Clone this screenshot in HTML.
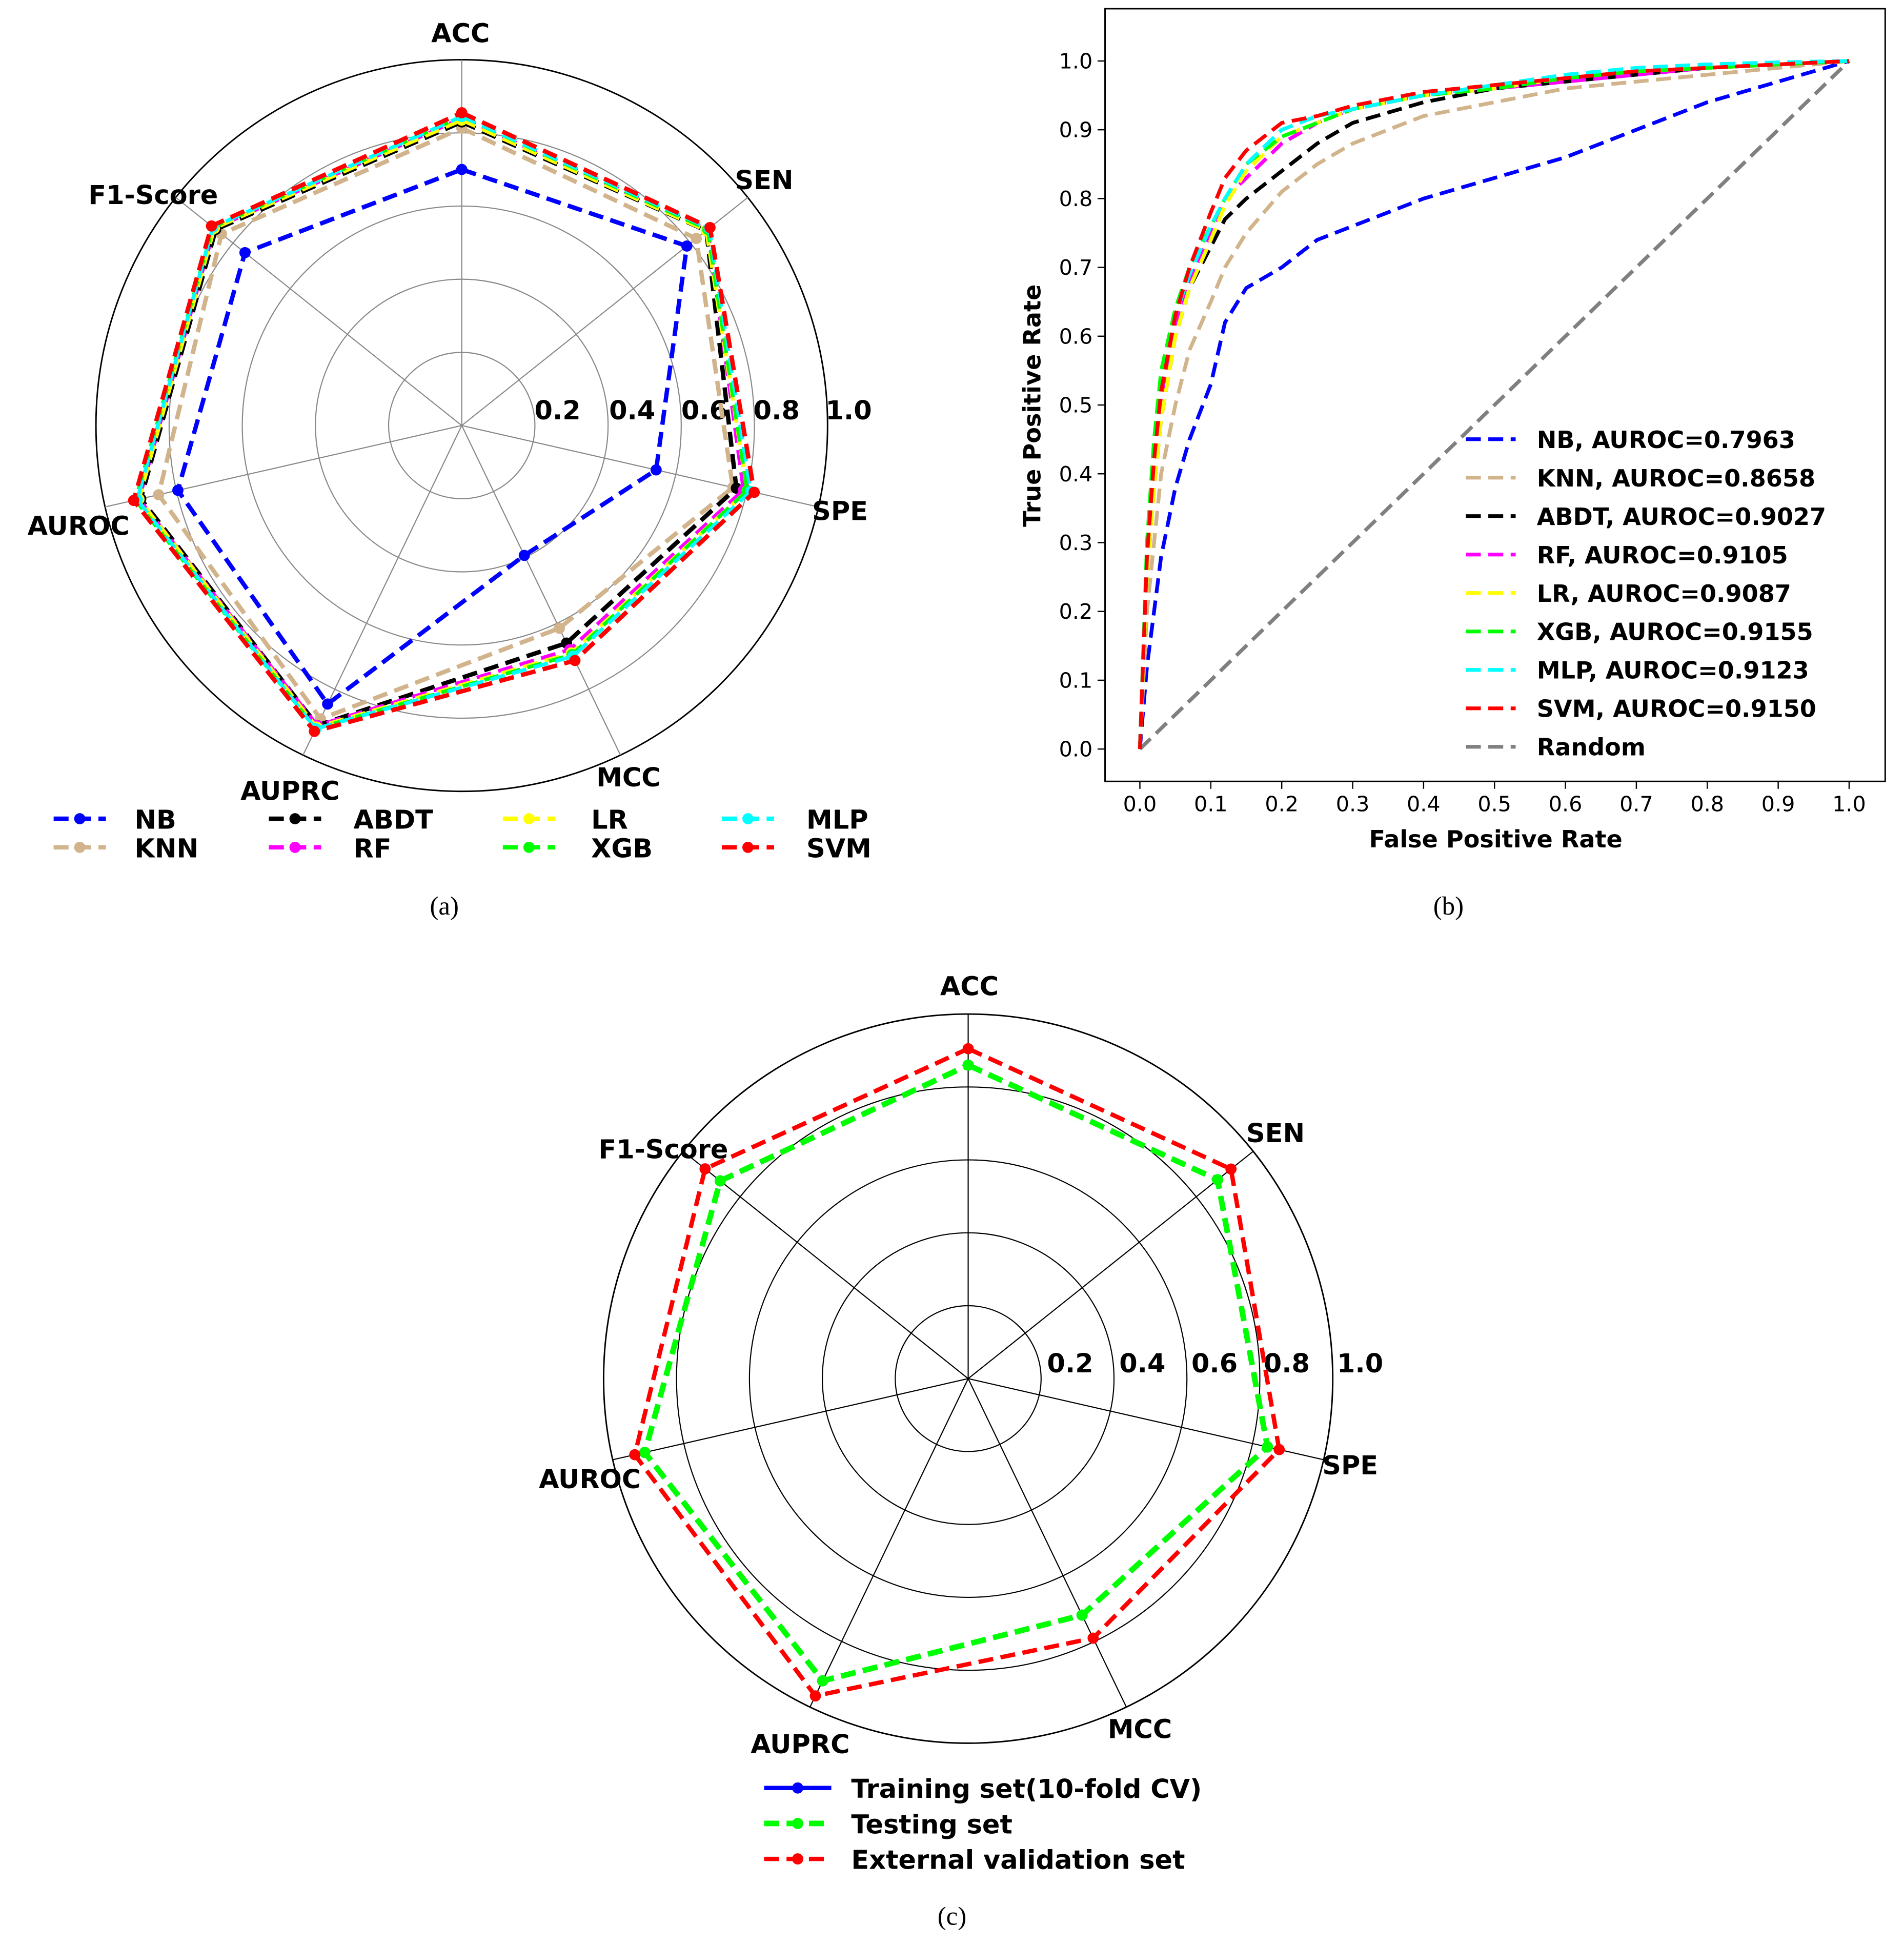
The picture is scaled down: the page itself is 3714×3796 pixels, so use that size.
<!DOCTYPE html>
<html><head><meta charset="utf-8"><style>
html,body{margin:0;padding:0;background:#fff}
svg{display:block}
text{font-family:"DejaVu Sans","Liberation Sans",sans-serif}
.b{font-weight:bold}
.cap{font-family:"Liberation Serif",serif;font-size:21px}
</style></head><body>
<svg id="fig" width="3714" height="3796" viewBox="0 0 1530 1564" xmlns="http://www.w3.org/2000/svg"></svg>
<script>
const metrics=["ACC","SEN","SPE","MCC","AUPRC","AUROC","F1-Score"];
const models=["NB","KNN","ABDT","RF","LR","XGB","MLP","SVM"];
const modelColors=["#0000ff","#d2b48c","#000000","#ff00ff","#ffff00","#00ff00","#00ffff","#ff0000"];
const NB=[0.70,0.787,0.545,0.394,0.845,0.796,0.758];
const KNN=[0.813,0.82,0.76,0.615,0.89,0.85,0.84];
const ABDT=[0.83,0.855,0.77,0.66,0.91,0.90,0.86];
const RF=[0.84,0.86,0.79,0.68,0.91,0.905,0.865];
const LR=[0.835,0.855,0.80,0.69,0.915,0.905,0.865];
const XGB=[0.845,0.86,0.80,0.695,0.92,0.915,0.87];
const MLP=[0.845,0.865,0.81,0.70,0.92,0.91,0.87];
const SVM=[0.855,0.868,0.82,0.713,0.928,0.92,0.875];
const setNames=["Training set(10-fold CV)","Testing set","External validation set"];
const TRAIN=[0.86,0.875,0.842,0.72,0.92,0.91,0.87];
const TEST=[0.86,0.875,0.842,0.72,0.92,0.91,0.87];
const EXT=[0.905,0.922,0.875,0.79,0.966,0.938,0.923];
const rTicks=[0.2,0.4,0.6,0.8,1.0];
const fprs=[0,0.01,0.02,0.03,0.05,0.07,0.1,0.12,0.15,0.2,0.25,0.3,0.4,0.5,0.6,0.7,0.8,0.9,1.0];
const rocNB=[0,0.12,0.2,0.28,0.38,0.45,0.53,0.62,0.67,0.7,0.74,0.76,0.8,0.83,0.86,0.9,0.94,0.97,1.0];
const rocKNN=[0,0.2,0.3,0.4,0.5,0.58,0.65,0.7,0.75,0.81,0.85,0.88,0.92,0.94,0.96,0.97,0.98,0.99,1];
const rocABDT=[0,0.25,0.38,0.48,0.6,0.67,0.73,0.77,0.8,0.84,0.88,0.91,0.94,0.96,0.97,0.98,0.99,0.995,1];
const rocRF=[0,0.27,0.4,0.5,0.62,0.68,0.75,0.8,0.83,0.88,0.91,0.93,0.95,0.96,0.97,0.98,0.99,0.995,1];
const rocLR=[0,0.25,0.38,0.48,0.6,0.67,0.74,0.79,0.84,0.89,0.91,0.93,0.95,0.96,0.975,0.985,0.99,0.995,1];
const rocXGB=[0,0.3,0.45,0.55,0.64,0.7,0.76,0.8,0.85,0.89,0.91,0.93,0.95,0.96,0.975,0.985,0.99,0.995,1];
const rocMLP=[0,0.28,0.42,0.52,0.63,0.69,0.76,0.8,0.85,0.9,0.92,0.93,0.95,0.965,0.98,0.99,0.995,0.998,1];
const rocSVM=[0,0.28,0.42,0.52,0.63,0.7,0.78,0.83,0.87,0.91,0.92,0.935,0.955,0.965,0.975,0.985,0.99,0.995,1];
const aurocs=["0.7963","0.8658","0.9027","0.9105","0.9087","0.9155","0.9123","0.9150"];
const axTicks=[0,0.1,0.2,0.3,0.4,0.5,0.6,0.7,0.8,0.9,1.0];

const NS="http://www.w3.org/2000/svg";
const svg=document.getElementById('fig');
function mk(tag,attrs,parent){const e=document.createElementNS(NS,tag);for(const k in attrs)e.setAttribute(k,attrs[k]);(parent||svg).appendChild(e);return e;}
function txt(s,x,y,size,cls,anchor,parent){const t=mk('text',{x:x,y:y,'font-size':size,'text-anchor':anchor||'middle','class':cls||''},parent);t.textContent=s;return t;}

function radar(cx,cy,R,gridCol,labelPos,tickPos,series,colors,widths,name){
  const g=mk('g',{});
  
  
  const ang=i=>Math.PI/2-i*2*Math.PI/7;
  const pt=(i,v)=>[cx+R*v*Math.cos(ang(i)),cy-R*v*Math.sin(ang(i))];
  rTicks.forEach((t,k)=>{
    const c=mk('circle',{cx:cx,cy:cy,r:R*t,fill:'none',stroke:k==4?'#000':gridCol,'stroke-width':k==4?1.2:0.9},g);
    
    
    const l=txt(t.toFixed(1),tickPos[k],tickPos[5],21,'b','middle',g);
    
    
  });
  metrics.forEach((m,i)=>{
    const p=pt(i,1);
    const s=mk('line',{x1:cx,y1:cy,x2:p[0],y2:p[1],stroke:gridCol,'stroke-width':0.9},g);
    
    
    const l=txt(m,labelPos[i][0],labelPos[i][1],21,'b','middle',g);
    
    
  });
  series.forEach((vals,si)=>{
    const pts=vals.map((v,i)=>pt(i,v));
    const poly=mk('polygon',{points:pts.map(p=>p.join(',')).join(' '),fill:'none',stroke:colors[si],'stroke-width':widths[si],'stroke-dasharray':'12,6'},g);
    
    
    pts.forEach(p=>{
      const c=mk('circle',{cx:p[0],cy:p[1],r:4.5,fill:colors[si]},g);
      
      
    });
  });
}

radar(371,342,294,'#888',[[370,34],[614,152],[675,418],[505,632],[233,643],[63,430],[123,164]],[448,508,566,624,682,337],
  [NB,KNN,ABDT,RF,LR,XGB,MLP,SVM],modelColors,[3.5,3.5,3.5,3,3,3,3,3.5],'radar-chart-a');
radar(778,1108,293,'#000',[[779,800],[1025,918],[1085,1185],[916,1397],[643,1409],[474,1196],[533,931]],[860,918,976,1034,1093,1103],
  [TRAIN,TEST,EXT],['#0000ff','#00ff00','#ff0000'],[3,4.5,3.5],'radar-chart-c');

// legend a
const legA=[[43,108,658],[43,108,681],[216,284,658],[216,284,681],[404,475,658],[404,475,681],[580,648,658],[580,648,681]];
models.forEach((m,i)=>{
  const [x0,tx,y]=legA[i];
  const l=mk('line',{x1:x0,y1:y,x2:x0+42,y2:y,stroke:modelColors[i],'stroke-width':3.5,'stroke-dasharray':'12,6'});
  
  
  const c=mk('circle',{cx:x0+21,cy:y,r:4.5,fill:modelColors[i]});
  
  
  const t=txt(m,tx,y+8,21,'b','start');
  
  
});
// legend c
setNames.forEach((s,i)=>{
  const y=1437+i*28.5;const col=['#0000ff','#00ff00','#ff0000'][i];
  const l=mk('line',{x1:614,y1:y,x2:668,y2:y,stroke:col,'stroke-width':i==1?4.5:3.5,'stroke-dasharray':i==0?'none':'12,6'});
  
  
  const c=mk('circle',{cx:641,cy:y,r:4.5,fill:col});
  
  
  const t=txt(s,684,y+8,21,'b','start');
  
  
});

// ROC chart
const X=v=>916+v*570, Y=v=>602-v*553;
const frame=mk('rect',{x:888,y:7,width:627,height:621,fill:'none',stroke:'#000','stroke-width':1.2});


axTicks.forEach(t=>{
  const a=mk('line',{x1:X(t),y1:628,x2:X(t),y2:634,stroke:'#000'});
  
  
  const at=txt(t.toFixed(1),X(t),652,17,'','middle');
  
  
  const b=mk('line',{x1:882,y1:Y(t),x2:888,y2:Y(t),stroke:'#000'});
  
  
  const bt=txt(t.toFixed(1),878,Y(t)+6,17,'','end');
  
  
});
const xt=txt('False Positive Rate',1202,681,19,'b','middle');


const yt=txt('True Positive Rate',0,0,19,'b','middle');
yt.setAttribute('transform','translate(836,326) rotate(-90)');


const rnd=mk('line',{x1:X(0),y1:Y(0),x2:X(1),y2:Y(1),stroke:'#808080','stroke-width':3,'stroke-dasharray':'12,6'});


[rocNB,rocKNN,rocABDT,rocRF,rocLR,rocXGB,rocMLP,rocSVM].forEach((arr,i)=>{
  const p=mk('polyline',{points:arr.map((v,j)=>X(fprs[j])+','+Y(v)).join(' '),fill:'none',stroke:modelColors[i],'stroke-width':3,'stroke-dasharray':'12,6'});
  
  
});
const rocLeg=models.map((m,i)=>[m+', AUROC='+aurocs[i],modelColors[i]]).concat([['Random','#808080']]);
rocLeg.forEach((e,i)=>{
  const y=353+i*30.9;
  const l=mk('line',{x1:1178,y1:y,x2:1218,y2:y,stroke:e[1],'stroke-width':3,'stroke-dasharray':'12,6'});
  
  
  const t=txt(e[0],1235,y+7,19,'b','start');
  
  
});
// captions
[['(a)',357,735],['(b)',1164,735],['(c)',765,1547]].forEach(c=>{
  const t=txt(c[0],c[1],c[2],22,'cap','middle');
  
  
});
</script>
</body></html>
